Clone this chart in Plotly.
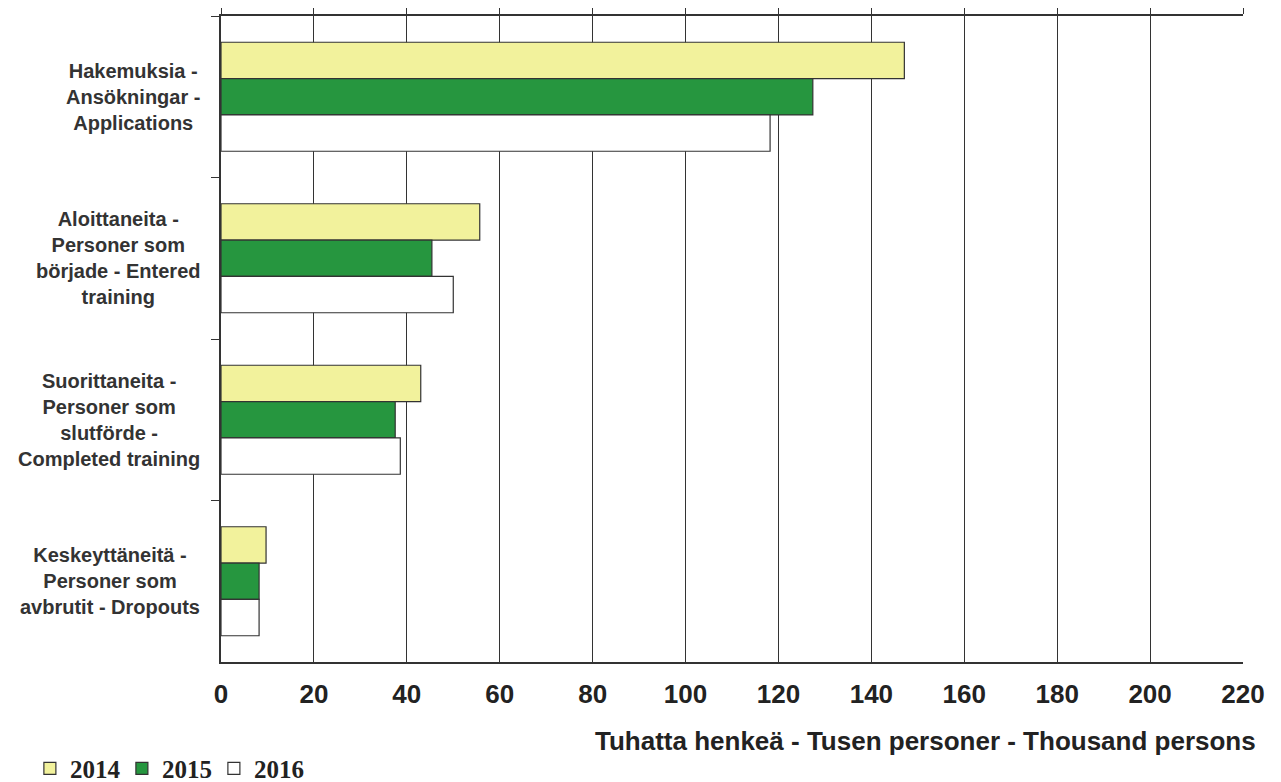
import plotly.graph_objects as go

categories = [
    "Hakemuksia -<br>Ansökningar -<br>Applications",
    "Aloittaneita -<br>Personer som<br>började - Entered<br>training",
    "Suorittaneita -<br>Personer som<br>slutförde -<br>Completed training",
    "Keskeyttäneitä -<br>Personer som<br>avbrutit - Dropouts",
]
years = ["2014", "2015", "2016"]
v2014 = [147.1, 55.7, 43.0, 9.7]
v2015 = [127.4, 45.4, 37.5, 8.2]
v2016 = [118.2, 50.0, 38.6, 8.2]
xticks = list(range(0, 221, 20))

colors = ["#f2f29c", "#26963f", "#ffffff"]
cat_ids = ["c0", "c1", "c2", "c3"]

fig = go.Figure()
for name, vals, col in zip(years, [v2014, v2015, v2016], colors):
    fig.add_trace(go.Bar(
        y=cat_ids, x=vals, name=name, orientation="h",
        marker=dict(color=col, line=dict(color="#333333", width=1.2)),
    ))

# dummy trace so the top (mirror) axis gets drawn
fig.add_trace(go.Scatter(x=[None], y=[None], xaxis="x2", showlegend=False))

for cid, lab in zip(cat_ids, categories):
    fig.add_annotation(
        x=-0.0186, xref="paper", y=cid, yref="y", text=lab, showarrow=False,
        xanchor="right", yanchor="middle", align="center",
        font=dict(family="Liberation Sans, Arial", size=20, color="#333333", weight="bold"),
    )

fig.add_annotation(
    x=1.0147, xref="paper", y=-0.122, yref="paper", yanchor="middle", xanchor="right",
    text="Tuhatta henkeä - Tusen personer - Thousand persons", showarrow=False,
    font=dict(family="Liberation Sans, Arial", size=26, color="#222222", weight="bold"),
)

fig.update_layout(
    width=1273, height=774,
    margin=dict(l=213, r=38, t=8, b=120, autoexpand=False),
    paper_bgcolor="white", plot_bgcolor="white",
    barmode="group", bargap=0.325, bargroupgap=0,
    showlegend=True,
    legend=dict(
        orientation="h", x=-0.187, xanchor="left", y=-0.165, yanchor="middle",
        font=dict(family="Liberation Serif, Times New Roman", size=25, color="#222222", weight="bold"),
        entrywidth=47, entrywidthmode="pixels", itemwidth=30,
        traceorder="normal",
    ),
    xaxis=dict(
        range=[0, 220], tickvals=xticks, showgrid=True, gridcolor="#333333", gridwidth=1.4,
        showline=True, linecolor="#333333", linewidth=1.6, ticks="",
        zeroline=False, ticklabelstandoff=8,
        tickfont=dict(family="Liberation Sans, Arial", size=26, color="#222222", weight="bold"),
    ),
    xaxis2=dict(
        range=[0, 220], tickvals=xticks, overlaying="x", side="top",
        showgrid=False, showline=True, linecolor="#333333", linewidth=1.6,
        ticks="outside", ticklen=8, tickcolor="#333333", tickwidth=1.4,
        showticklabels=False, zeroline=False,
    ),
    yaxis=dict(
        categoryorder="array", categoryarray=cat_ids, autorange="reversed",
        showticklabels=False, tickson="boundaries", ticks="outside", ticklen=8,
        tickcolor="#333333", tickwidth=1.4, showgrid=False,
        showline=True, linecolor="#333333", linewidth=1.6,
    ),
)

fig.write_html("out.html")
